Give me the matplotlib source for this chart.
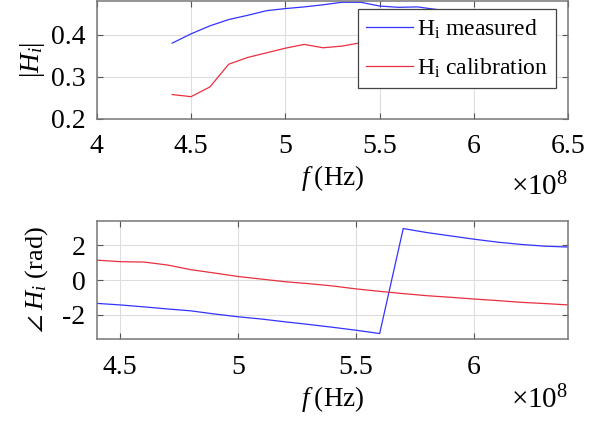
import numpy as np
import matplotlib
matplotlib.use('Agg')
from matplotlib import pyplot as plt
from matplotlib.ticker import FormatStrFormatter

# frequency in units of 1e8 Hz
freq = [4.4, 4.5, 4.6, 4.7, 4.8, 4.9, 5.0, 5.1, 5.2, 5.3, 5.4,
        5.5, 5.6, 5.7, 5.8, 5.9, 6.0, 6.1, 6.2, 6.3, 6.4]

# magnitude |H_i|
mag_meas = [0.380, 0.402, 0.421, 0.436, 0.446, 0.457, 0.462, 0.466, 0.471, 0.477, 0.477,
            0.468, 0.465, 0.466, 0.460, 0.455, 0.450, 0.445, 0.440, 0.435, 0.430]
mag_cal = [0.258, 0.253, 0.276, 0.330, 0.346, 0.357, 0.368, 0.377, 0.369, 0.373, 0.381,
           0.387, 0.392, 0.395, 0.398, 0.400, 0.402, 0.404, 0.405, 0.406, 0.407]

# phase of H_i (rad)
ph_meas = [-1.34, -1.43, -1.54, -1.66, -1.77, -1.95, -2.11, -2.24, -2.40, -2.55, -2.71,
           -2.88, -3.07, 2.95, 2.72, 2.53, 2.34, 2.17, 2.04, 1.94, 1.89]
ph_cal = [1.14, 1.05, 1.03, 0.86, 0.59, 0.40, 0.20, 0.05, -0.10, -0.21, -0.34,
          -0.51, -0.65, -0.78, -0.90, -0.99, -1.09, -1.18, -1.28, -1.35, -1.43]

plt.rcParams['font.family'] = ['Liberation Serif', 'DejaVu Serif']
plt.rcParams['mathtext.fontset'] = 'custom'
plt.rcParams['mathtext.rm'] = 'Liberation Serif'
plt.rcParams['mathtext.it'] = 'Liberation Serif:italic'
plt.rcParams['axes.unicode_minus'] = False
plt.rcParams['font.size'] = 20

W, H = 601, 421
fig = plt.figure(figsize=(W / 100, H / 100), dpi=100)

def px_axes(l, t, r, b):
    return fig.add_axes([l / W, 1 - b / H, (r - l) / W, (b - t) / H])

def style(ax):
    for s in ax.spines.values():
        s.set_color('#777777')
        s.set_linewidth(1.1)
    ax.tick_params(direction='in', length=4, width=0.8, color='#555555',
                   top=True, right=True, labelsize=20)
    ax.tick_params(axis='x', pad=11)
    ax.tick_params(axis='y', pad=8)
    ax.grid(True, color='#dddddd', linewidth=0.8)
    ax.set_axisbelow(True)
    ax.xaxis.set_major_formatter(FormatStrFormatter('%g'))
    ax.yaxis.set_major_formatter(FormatStrFormatter('%g'))

blue = '#3333ff'
red = '#e8303f'

# top: magnitude
ax1 = px_axes(96.7, 1, 568.3, 119)
style(ax1)
ax1.plot(freq, mag_meas, color=blue, lw=0.9, label=r'H$_\mathrm{i}$ measured')
ax1.plot(freq, mag_cal, color=red, lw=0.9, label=r'H$_\mathrm{i}$ calibration')
ax1.set_xlim(4, 6.5)
ax1.set_ylim(0.2, 0.48)
ax1.set_xticks([4, 4.5, 5, 5.5, 6, 6.5])
ax1.set_yticks([0.2, 0.3, 0.4])
ax1.set_xlabel(r'$f\;$(Hz)', labelpad=3, fontsize=19.5)
ax1.set_ylabel(r'$|H_i|$', fontsize=19.5, va='center')
ax1.yaxis.set_label_coords(-0.137, 0.5)
leg = ax1.legend(loc='upper right', bbox_to_anchor=(556 / W, 1 - 9.3 / H),
                 bbox_transform=fig.transFigure, borderaxespad=0, fancybox=False,
                 framealpha=1, edgecolor='#444444', handlelength=2.0,
                 handletextpad=0.15, labelspacing=0.65, borderpad=0.35, fontsize=17)
leg.get_frame().set_linewidth(0.9)
fig.text(568 / W, 1 - 187 / H, r'$\times10^{8}$', ha='right', va='center', fontsize=21)

# bottom: phase
ax2 = px_axes(96.7, 220.7, 568.3, 339.3)
style(ax2)
ax2.plot(freq, ph_meas, color=blue, lw=0.9)
ax2.plot(freq, ph_cal, color=red, lw=0.9)
ax2.set_xlim(4.4, 6.4)
ax2.set_ylim(-3.4, 3.4)
ax2.set_xticks([4.5, 5, 5.5, 6])
ax2.set_yticks([-2, 0, 2])
ax2.set_xlabel(r'$f\;$(Hz)', labelpad=3, fontsize=19.5)
ax2.set_ylabel(r'$\angle\; H_i$ (rad)', fontsize=19, va='center')
ax2.yaxis.set_label_coords(-0.127, 0.5)
fig.text(568 / W, 1 - 400 / H, r'$\times10^{8}$', ha='right', va='center', fontsize=21)

fig.savefig('out.png', dpi=100)
